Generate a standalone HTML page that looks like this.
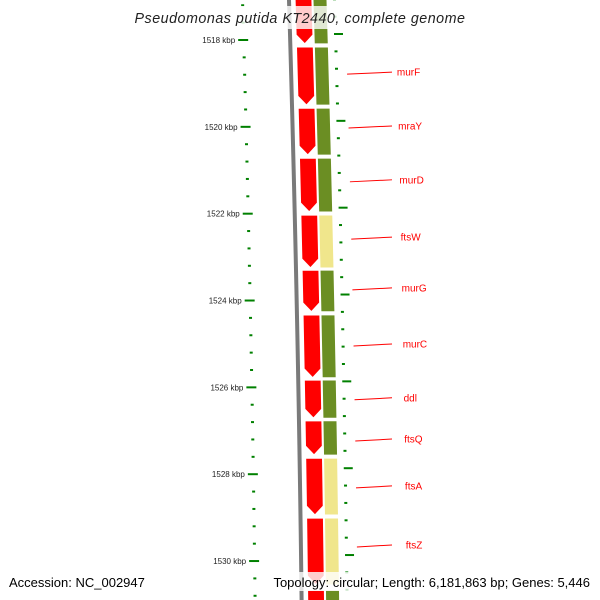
<!DOCTYPE html>
<html><head><meta charset="utf-8"><style>
body{margin:0;background:#fff}
svg{display:block;font-family:"Liberation Sans","DejaVu Sans",sans-serif}
</style></head><body>
<svg id="map" width="600" height="600" viewBox="0 0 600 600" xmlns="http://www.w3.org/2000/svg">
<g id="layer"></g>
</svg>
<script>
const geneStarts=[1516.85,1518.16,1519.57,1520.72,1522.03,1523.30,1524.33,1525.83,1526.77,1527.63,1529.01,1530.67];
const geneEnds=[1518.09,1519.50,1520.65,1521.96,1523.25,1524.26,1525.78,1526.71,1527.56,1528.94,1530.55,1531.36];
const cogColors=["#6b8e23","#6b8e23","#6b8e23","#6b8e23","#f0e68c","#6b8e23","#6b8e23","#6b8e23","#6b8e23","#f0e68c","#f0e68c","#6b8e23"];
const labelNames=["murF","mraY","murD","ftsW","murG","murC","ddl","ftsQ","ftsA","ftsZ"];
const labelKbp=[1518.74,1519.98,1521.22,1522.54,1523.71,1525.0,1526.24,1527.19,1528.27,1529.63];
const majorTicks=[1518,1520,1522,1524,1526,1528,1530];
const startKbp=1517.2, endKbp=1531.2, minorStep=0.4;

const NS="http://www.w3.org/2000/svg";
const layer=document.getElementById('layer');
const y=k=>40+(k-1518)*43.42;
const dx=yy=>0.03*yy-0.000015*yy*yy;
function mk(tag,attrs,parent){const e=document.createElementNS(NS,tag);for(const k in attrs)e.setAttribute(k,attrs[k]);(parent||layer).appendChild(e);return e;}

let pts=[];for(let yy=-5;yy<=605;yy+=10)pts.push((289+dx(yy))+","+yy);
const bb=mk('polyline',{points:pts.join(' '),fill:'none',stroke:'#7a7a7a','stroke-width':4});



const nT=Math.round((endKbp-startKbp)/minorStep);
for(let n=0;n<=nT;n++){
  const kk=Math.round((startKbp+n*minorStep)*10)/10;const yy=y(kk);
  const isMaj=majorTicks.some(m=>Math.abs(m-kk)<0.01);
  const lx=242+dx(yy);
  const t=mk('line',{x1:isMaj?lx-5:lx-1,x2:isMaj?lx+5:lx+2,y1:yy,y2:yy,stroke:'#008000','stroke-width':2});
  
  
  const ry=yy-6;const rx=334+dx(ry);
  const t2=mk('line',{x1:rx-1,x2:isMaj?rx+8:rx+2,y1:ry,y2:ry,stroke:'#008000','stroke-width':2});
  
  
  if(isMaj){
    const tx=mk('text',{x:lx-8,y:yy+3,'text-anchor':'end','font-size':8,fill:'#222'});
    tx.textContent=kk+" kbp";
    
    
  }
}

for(let i=0;i<geneStarts.length;i++){
  const y1=y(geneStarts[i]),y2=y(geneEnds[i]);
  const c=mk('polygon',{points:[[313+dx(y1),y1],[327+dx(y1),y1],[327+dx(y2),y2],[313+dx(y2),y2]].map(p=>p.join(',')).join(' '),fill:cogColors[i],stroke:'#fff','stroke-width':1});
  
  
  const h=Math.min(9,(y2-y1)/3);
  const a=mk('polygon',{points:[[295+dx(y1),y1],[312+dx(y1),y1],[312+dx(y2-h),y2-h],[303.5+dx(y2),y2],[295+dx(y2-h),y2-h]].map(p=>p.join(',')).join(' '),fill:'#ff0000',stroke:'#fff','stroke-width':1.2});
  
  
}

for(let i=0;i<labelNames.length;i++){
  const yy=y(labelKbp[i]);
  const l=mk('line',{x1:345+dx(yy),y1:yy+2,x2:392,y2:yy,stroke:'#ff0000','stroke-width':1});
  
  
  const t=mk('text',{x:395+dx(yy)*0.9,y:yy+3.5,'font-size':10,fill:'#ff0000'});
  t.textContent=labelNames[i];
  
  
}

mk('rect',{x:128,y:6,width:344,height:23,fill:'#fff','fill-opacity':0.8});
const ti=mk('text',{x:300,y:23,'text-anchor':'middle','font-size':14.3,'font-style':'italic',fill:'#222','letter-spacing':'0.5'});
ti.textContent="Pseudomonas putida KT2440, complete genome";


mk('rect',{x:257,y:572,width:338,height:19,fill:'#fff','fill-opacity':0.8});
const f1=mk('text',{x:9,y:587,'font-size':13,fill:'#000'});
f1.textContent="Accession: NC_002947";


const f2=mk('text',{x:590,y:587,'text-anchor':'end','font-size':13,fill:'#000'});
f2.textContent="Topology: circular; Length: 6,181,863 bp; Genes: 5,446";


</script>
</body></html>
